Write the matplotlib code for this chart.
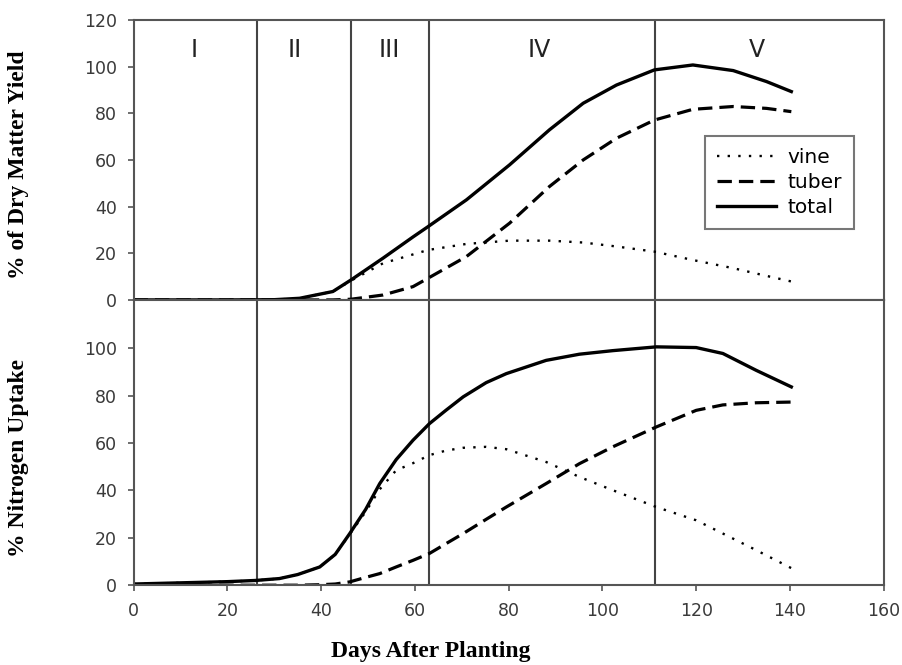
import numpy as np
import matplotlib
matplotlib.use("Agg")
import matplotlib.pyplot as plt

# dry matter (top panel)
dm_days = [0, 20, 30, 35.4, 42.5, 46.4, 53.2, 59.6, 62.8, 71, 80.2, 88.7, 95.9,
           103, 111.1, 119.3, 127.9, 135, 140.3]
dm_total = [0, 0, 0.1, 0.7, 3.6, 8.6, 17.9, 27, 31.4, 42.9, 57.9, 72.9, 84.3,
            92.1, 98.6, 100.7, 98.3, 93.6, 89.3]
dm_tuber = [0, 0, 0, 0, 0, 0.3, 2.1, 5.7, 9.3, 18.6, 32.9, 48.6, 60,
            69.3, 77.1, 81.7, 82.9, 82.1, 80.7]
dm_vine = [0, 0, 0.1, 0.7, 3.6, 8.3, 15.7, 19.5, 21.4, 24, 25.4, 25.4, 24.6,
           22.9, 20.7, 17.1, 13.6, 10.3, 7.9]

# nitrogen uptake (bottom panel)
n_days = [0, 10, 20, 26, 31.1, 35, 39.7, 43, 46.1, 49.5, 52.5, 56, 59.6, 63.1,
          66.6, 70.3, 75.2, 79.5, 88, 95.1, 102.2, 111.5, 120, 125.7, 132.8, 140.3]
n_total = [0.5, 1, 1.5, 2, 2.8, 4.5, 7.7, 13, 21.8, 32, 42.9, 53, 61.2, 68.2,
           73.8, 79.5, 85.5, 89.3, 94.9, 97.5, 99, 100.6, 100.3, 97.8, 90.7, 83.7]
n_tuber = [0, 0, 0, 0, 0, 0, 0.2, 0.5, 1.4, 3.3, 4.9, 7.7, 10.5, 13.4,
           17.5, 21.8, 27.8, 33, 42.9, 51.3, 58.4, 66.8, 73.8, 76.1, 77, 77.3]
n_vine = [0.5, 1, 1.5, 2, 2.8, 4.5, 7.7, 13, 21.5, 31, 40.5, 48.5, 51.5, 54.9,
          56.8, 58, 58.4, 57.4, 52, 45.7, 40.1, 33, 27.4, 21.8, 14.8, 7.2]

stage_bounds = [26.4, 46.4, 63.1, 111.2]
stage_names = ["I", "II", "III", "IV", "V"]
stage_pos = [13, 34.3, 54.6, 86.6, 133]

tick_font = "DejaVu Sans"
grey = "#555555"

fig = plt.figure(figsize=(9.03, 6.65), dpi=100)
ax1 = fig.add_axes([0.148, 0.549, 0.8306, 0.421])
ax2 = fig.add_axes([0.148, 0.120, 0.8306, 0.4286])


def style(ax):
    for s in ax.spines.values():
        s.set_color(grey)
        s.set_linewidth(1.5)
    ax.tick_params(direction="out", length=4, width=1.2, color=grey,
                   labelcolor="#3a3a3a", labelsize=12.5, pad=8)
    for lab in ax.get_xticklabels() + ax.get_yticklabels():
        lab.set_fontfamily(tick_font)
    for b in stage_bounds:
        ax.axvline(b, color="#444444", lw=1.5, zorder=1)
    ax.set_xlim(0, 160)
    ax.set_xticks(np.arange(0, 161, 20))


def draw(ax, days, vine, tuber, total):
    ax.plot(days, vine, color="black", lw=1.7, ls=(0, (1, 3.5)), label="vine")
    ax.plot(days, tuber, color="black", lw=2.3, ls=(0, (4.5, 2.2)), label="tuber")
    ax.plot(days, total, color="black", lw=2.4, ls="-", label="total")


draw(ax1, dm_days, dm_vine, dm_tuber, dm_total)
draw(ax2, n_days, n_vine, n_tuber, n_total)

ax1.set_ylim(0, 120)
ax1.set_yticks(np.arange(0, 121, 20))
ax1.set_xticklabels([])
ax2.set_ylim(0, 120.3)
ax2.set_yticks(np.arange(0, 101, 20))
style(ax1)
style(ax2)

for name, x in zip(stage_names, stage_pos):
    ax1.text(x, 107, name, ha="center", va="center", fontsize=17,
             family=tick_font, color="#222222")

leg = ax1.legend(loc="lower left", bbox_to_anchor=(0.762, 0.254), frameon=True,
                 fancybox=False, edgecolor=grey, handlelength=2.9,
                 handletextpad=0.6, borderpad=0.6, labelspacing=0.28,
                 borderaxespad=0, prop={"family": tick_font, "size": 14.5})
leg.get_frame().set_linewidth(1.5)

fig.text(0.020, 0.752, "% of Dry Matter Yield", rotation=90, ha="center",
         va="center", family="Liberation Serif", weight="bold", fontsize=17)
fig.text(0.020, 0.311, "% Nitrogen Uptake", rotation=90, ha="center",
         va="center", family="Liberation Serif", weight="bold", fontsize=17)
fig.text(0.477, 0.02, "Days After Planting", ha="center", va="center",
         family="Liberation Serif", weight="bold", fontsize=17)

fig.savefig("out.png", dpi=100, facecolor="white")
